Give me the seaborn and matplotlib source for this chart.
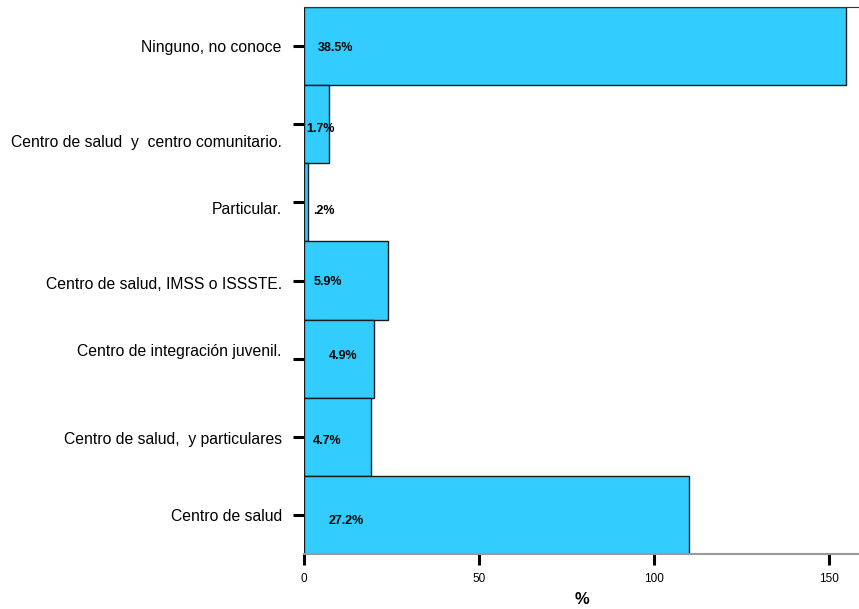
import seaborn as sns
import matplotlib.pyplot as plt
from matplotlib.transforms import ScaledTranslation

categories = [
    "Ninguno, no conoce",
    "Centro de salud  y  centro comunitario.",
    "Particular.",
    "Centro de salud, IMSS o ISSSTE.",
    "Centro de integración juvenil.",
    "Centro de salud,  y particulares",
    "Centro de salud",
]
counts = [155, 7, 1, 24, 20, 19, 110]
pct_labels = ["38.5%", "1.7%", ".2%", "5.9%", "4.9%", "4.7%", "27.2%"]

# label placement quirks of the original (points)
label_nudge = [0, 12, 4, 1.5, -6, 1, 0]          # category labels, + = down
pct_dx = [10, 1.5, 6.5, 7, 18, 6.5, 18]           # value labels, from bar base
pct_dy = [1.4, 3.6, 6.5, 1.4, -2.2, 2.9, 4.3]     # value labels, + = down

sns.set_style("white")
plt.rcParams["font.family"] = ["Liberation Sans", "DejaVu Sans"]
plt.rcParams["text.color"] = "black"
plt.rcParams["xtick.color"] = "black"
plt.rcParams["ytick.color"] = "black"

fig = plt.figure(figsize=(8.59, 6.09), dpi=100)
ax = fig.add_axes([0.354, 0.0903, 0.646, 0.8982])

sns.barplot(
    x=counts,
    y=categories,
    orient="h",
    width=1,
    color="#33CCFF",
    saturation=1,
    edgecolor="#1a1a1a",
    linewidth=1,
    ax=ax,
)

for i, txt in enumerate(pct_labels):
    ax.annotate(txt, xy=(0, i), xytext=(pct_dx[i], -pct_dy[i]), textcoords="offset points",
                ha="left", va="center", fontsize=9, fontweight="bold", color="black")

ax.set_xlim(0, 158.6)
ax.set_xticks([0, 50, 100, 150])
ax.set_xlabel("%", fontsize=12, fontweight="bold", labelpad=5, color="black")
ax.set_ylabel("")

ax.tick_params(axis="y", length=8, width=2.2, labelsize=11.3, pad=8, left=True)
ax.tick_params(axis="x", length=8, width=2.2, labelsize=8.5, pad=6, bottom=True)

for lab, dy in zip(ax.get_yticklabels(), label_nudge):
    lab.set_transform(lab.get_transform() + ScaledTranslation(0, -dy / 72, fig.dpi_scale_trans))

ax.spines["left"].set_visible(False)
ax.spines["right"].set_visible(False)
ax.spines["top"].set_color("#333333")
ax.spines["top"].set_linewidth(0.8)
ax.spines["bottom"].set_color("#999999")
ax.spines["bottom"].set_linewidth(1.5)

fig.savefig("out.png", dpi=100)
